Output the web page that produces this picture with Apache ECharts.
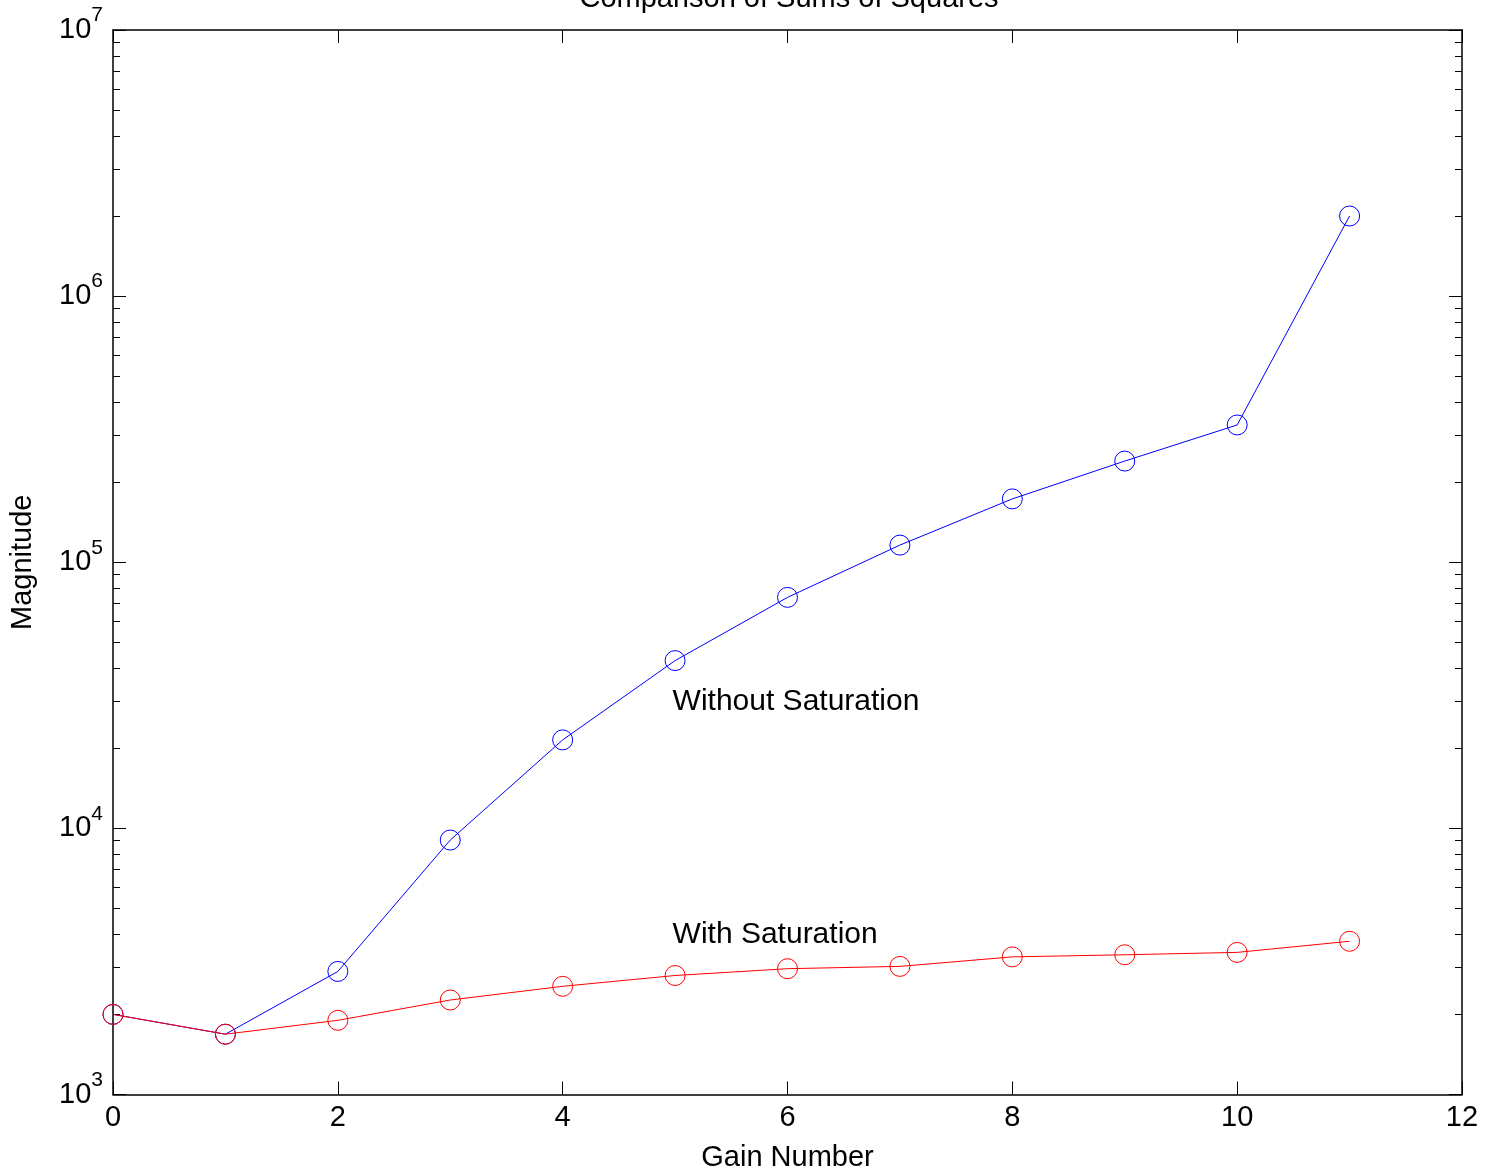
<!DOCTYPE html>
<html><head><meta charset="utf-8">
<script src="https://cdn.jsdelivr.net/npm/echarts@6/dist/echarts.min.js"></script>
<style>html,body{margin:0;padding:0;background:#fff}#c{width:1486px;height:1175px}</style>
</head><body><div id="c"></div>
<script>
// ---- data ----
const gainNumbers = [0, 1, 2, 3, 4, 5, 6, 7, 8, 9, 10, 11];
const withoutSaturation = [2000, 1685, 2900, 9040, 21500, 42700, 73800, 116000, 173000, 240000, 328000, 2000000];
const withSaturation = [2000, 1685, 1900, 2265, 2550, 2800, 2970, 3030, 3290, 3350, 3420, 3765];
const annotationText = ['Without Saturation', 'With Saturation'];
const annotationX = [5, 5];
const annotationY = [30000, 4000];
const xTickMin = 0, xTickMax = 12, xTickStep = 2;
const yMin = 1e3, yMax = 1e7;
const minorDecades = [3, 4, 5, 6];
const minorMantissas = [2, 3, 4, 5, 6, 7, 8, 9];
const titleText = 'Comparison of Sums of Squares';
const xName = 'Gain Number';
const yName = 'Magnitude';

// ---- build ----
const FONT = "'Liberation Sans', Arial, Helvetica, sans-serif";
const FS = 29;
const minorExps = [];
minorDecades.forEach(d => minorMantissas.forEach(m => minorExps.push(d + Math.log10(m))));

const axisLine = { show: true, lineStyle: { color: '#000', width: 1.5 } };
const chart = echarts.init(document.getElementById('c'), null, { renderer: 'canvas' });

function xAxis(pos, showLabel) {
  return {
    type: 'value', position: pos, min: xTickMin, max: xTickMax, interval: xTickStep,
    axisLine: axisLine,
    axisTick: { show: true, inside: true, length: 13, lineStyle: { color: '#000', width: 1 } },
    axisLabel: { show: showLabel, color: '#000', fontSize: FS, fontFamily: FONT, margin: 9 },
    splitLine: { show: false },
    name: showLabel ? xName : '', nameLocation: 'middle', nameGap: 49,
    nameTextStyle: { color: '#000', fontSize: FS, fontFamily: FONT }
  };
}
function yLog(pos, showLabel) {
  return {
    type: 'log', logBase: 10, position: pos, min: yMin, max: yMax,
    axisLine: axisLine,
    axisTick: { show: true, inside: true, length: 13, lineStyle: { color: '#000', width: 1 } },
    axisLabel: {
      show: showLabel, margin: 10, color: '#000', fontFamily: FONT,
      formatter: v => '{b|10}{s|' + Math.round(Math.log10(v)) + '}',
      rich: {
        b: { fontSize: FS, lineHeight: 50, fontFamily: FONT, color: '#000' },
        s: { fontSize: 21, lineHeight: 18, verticalAlign: 'top', fontFamily: FONT, color: '#000' }
      }
    },
    splitLine: { show: false },
    name: showLabel ? yName : '', nameLocation: 'middle', nameGap: 76,
    nameTextStyle: { color: '#000', fontSize: FS, fontFamily: FONT }
  };
}
function yMinor(pos) {
  return {
    type: 'value', position: pos, min: minorDecades[0], max: minorDecades[minorDecades.length - 1] + 1,
    axisLine: { show: false },
    axisTick: { show: true, inside: true, length: 7, customValues: minorExps, lineStyle: { color: '#000', width: 1 } },
    axisLabel: { show: false },
    splitLine: { show: false }
  };
}

const option = {
  animation: false,
  backgroundColor: '#fff',
  title: {
    text: titleText, left: 784, top: -21, textAlign: 'center',
    textStyle: { color: '#000', fontSize: FS, fontWeight: 'normal', fontFamily: FONT }
  },
  grid: { left: 113, top: 30, right: 24, bottom: 80.5, containLabel: false, outerBoundsMode: 'none' },
  xAxis: [xAxis('bottom', true), xAxis('top', false)],
  yAxis: [yLog('left', true), yMinor('left'), yLog('right', false), yMinor('right')],
  series: [
    {
      name: 'Without Saturation', type: 'line', xAxisIndex: 0, yAxisIndex: 0,
      data: gainNumbers.map((x, i) => [x, withoutSaturation[i]]),
      symbol: 'circle', symbolSize: 20,
      itemStyle: { color: 'rgba(0,0,0,0)', borderColor: '#0000ff', borderWidth: 1 },
      lineStyle: { color: '#0000ff', width: 1 },
      emphasis: { disabled: true }
    },
    {
      name: 'With Saturation', type: 'line', xAxisIndex: 0, yAxisIndex: 0,
      data: gainNumbers.map((x, i) => [x, withSaturation[i]]),
      symbol: 'circle', symbolSize: 20,
      itemStyle: { color: 'rgba(0,0,0,0)', borderColor: '#ff0000', borderWidth: 1 },
      lineStyle: { color: '#ff0000', width: 1 },
      emphasis: { disabled: true }
    },
    {
      name: 'annotations', type: 'scatter', xAxisIndex: 0, yAxisIndex: 0,
      data: annotationX.map((x, i) => ({ value: [x, annotationY[i]], name: annotationText[i] })),
      symbolSize: 1, itemStyle: { color: 'rgba(0,0,0,0)', opacity: 1 }, silent: true,
      label: {
        show: true, position: 'right', distance: 0, offset: [-3, 0], opacity: 1,
        formatter: p => p.name,
        color: '#000', fontSize: 30, fontFamily: FONT
      }
    }
  ]
};
chart.setOption(option);
</script></body></html>
